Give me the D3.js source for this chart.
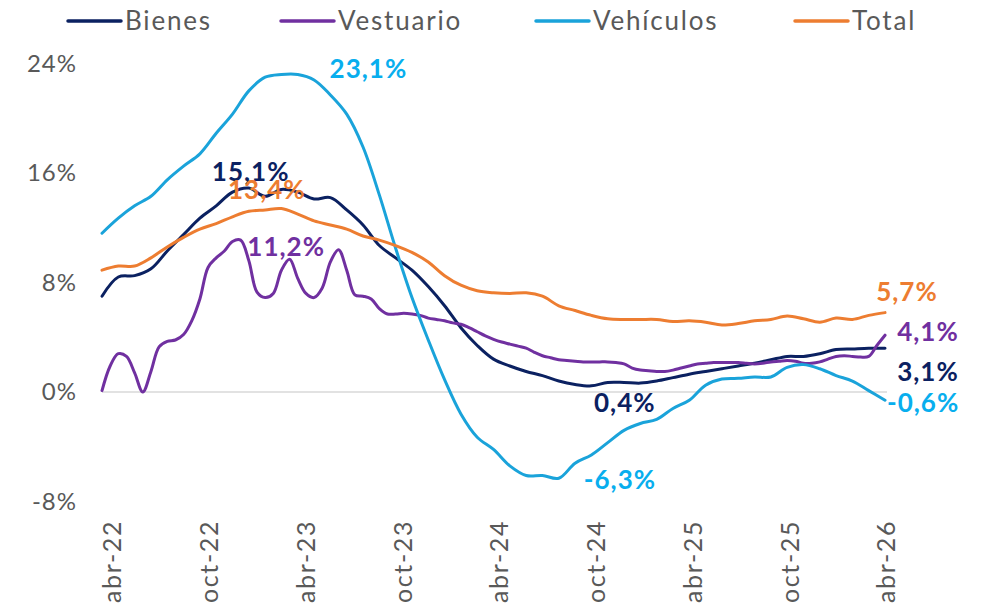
<!DOCTYPE html>
<html><head><meta charset="utf-8">
<script src="https://cdn.jsdelivr.net/npm/d3@7"></script>
<style>
body{margin:0;background:#fff;}
svg{display:block;}
text{font-family:"Lato","Open Sans",sans-serif;}
</style></head>
<body><svg id="c" width="992" height="608"></svg>
<script>
// ---- data ----
const seriesNames = ["Bienes","Vestuario","Vehículos","Total"];
const seriesColors = ["#0B2161","#7030A0","#1AA3DA","#ED7D31"];
const labelColors = ["#0B2161","#7030A0","#08AEEE","#ED7D31"];
// monthly (approx. mid-March 2022 .. end of March 2026)
const bienes = [7.0,8.4,8.5,9.0,10.3,11.5,12.7,13.6,14.6,14.9,14.3,14.8,14.6,14.1,14.2,13.3,12.2,10.7,9.8,8.9,7.7,6.3,4.7,3.4,2.4,1.9,1.5,1.2,0.8,0.55,0.45,0.7,0.7,0.65,0.8,1.05,1.3,1.5,1.7,1.9,2.1,2.35,2.6,2.6,2.8,3.1,3.15,3.2,3.2];
// half-monthly
const vestuario = [0.1,1.9,2.8,2.6,1.4,0.0,1.5,3.3,3.7,3.8,4.2,5.2,6.8,9.1,9.8,10.3,11.0,11.1,9.6,7.3,6.9,7.2,8.9,9.7,8.3,7.2,6.9,7.6,9.5,10.4,8.9,7.1,7.0,6.8,6.1,5.7,5.7,5.75,5.7,5.6,5.4,5.3,5.2,5.05,4.95,4.7,4.4,4.1,3.85,3.65,3.5,3.35,3.2,2.9,2.65,2.5,2.35,2.3,2.25,2.2,2.2,2.2,2.2,2.15,2.05,1.75,1.6,1.55,1.5,1.5,1.6,1.75,1.9,2.05,2.1,2.15,2.15,2.15,2.15,2.1,2.05,2.1,2.2,2.25,2.3,2.25,2.1,2.1,2.2,2.4,2.6,2.65,2.6,2.55,2.6,3.4,4.15];
const vehiculos = [11.6,12.7,13.6,14.3,15.5,16.5,17.4,18.9,20.3,22.0,23.0,23.2,23.2,22.8,21.7,20.3,17.9,14.4,10.5,6.9,3.8,0.9,-1.6,-3.3,-4.2,-5.4,-6.1,-6.1,-6.3,-5.2,-4.6,-3.7,-2.8,-2.3,-2.0,-1.2,-0.6,0.5,0.95,1.0,1.1,1.1,1.8,2.0,1.7,1.2,0.8,0.1,-0.6];
const total = [8.9,9.2,9.2,9.8,10.6,11.3,11.9,12.3,12.8,13.2,13.3,13.4,13.0,12.5,12.2,11.9,11.4,11.1,10.7,10.2,9.5,8.5,7.8,7.4,7.25,7.2,7.25,7.0,6.3,5.95,5.6,5.35,5.3,5.3,5.3,5.15,5.2,5.1,4.9,5.0,5.2,5.3,5.55,5.35,5.1,5.4,5.3,5.6,5.8];
const seriesValues = [bienes, vestuario, vehiculos, total];
// months relative to abr-22 covered by the data
const dataStartMonth = -0.62, dataEndMonth = 47.94;

const tickMonths = [0,6,12,18,24,30,36,42,48];
const tickLabels = ["abr-22","oct-22","abr-23","oct-23","abr-24","oct-24","abr-25","oct-25","abr-26"];
const yTicks = [-8,0,8,16,24];

// data labels: series index, month position, value, text
const dataLabels = [
  {s:2, m:15.9, v:23.6, t:"23,1%"},
  {s:0, m:8.6, v:16.1, t:"15,1%"},
  {s:3, m:9.6, v:14.8, t:"13,4%"},
  {s:1, m:10.8, v:10.6, t:"11,2%"},
  {s:0, m:31.8, v:-0.8, t:"0,4%"},
  {s:2, m:31.5, v:-6.4, t:"-6,3%"},
  {s:3, m:49.3, v:7.3, t:"5,7%"},
  {s:1, m:50.6, v:4.4, t:"4,1%"},
  {s:0, m:50.6, v:1.5, t:"3,1%"},
  {s:2, m:50.3, v:-0.8, t:"-0,6%"}
];

// ---- scales ----
const svg = d3.select("#c");
const x = d3.scaleLinear().domain([0,48]).range([112,886]);
const y = d3.scaleLinear().domain([-8,24]).range([501.5,63.5]);

// zero line
svg.append("line")
  .attr("x1", x(dataStartMonth)).attr("x2", x(dataEndMonth)+2)
  .attr("y1", y(0)).attr("y2", y(0))
  .attr("stroke","#D9D9D9").attr("stroke-width",1.5);

// y axis
const ya = svg.append("g").attr("transform","translate(80,0)")
  .call(d3.axisLeft(y).tickValues(yTicks).tickFormat(d=>d+"%").tickSize(0).tickPadding(3));
ya.select(".domain").remove();
ya.selectAll("text").attr("fill","#595959").style("font-size","24px")
  .style("font-family","Lato").style("letter-spacing","1px");

// x axis
const xa = svg.append("g").attr("transform","translate(0,520)")
  .call(d3.axisBottom(x).tickValues(tickMonths).tickFormat((d,i)=>tickLabels[i]).tickSize(0));
xa.select(".domain").remove();
xa.selectAll("text")
  .attr("fill","#595959").style("font-size","25px").style("font-family","Lato")
  .style("letter-spacing","1.6px")
  .attr("x",0).attr("y",0).attr("dy","0.35em")
  .attr("transform","rotate(-90)").attr("text-anchor","end");

// lines
const line = d3.line().curve(d3.curveCatmullRom.alpha(0.5));
seriesValues.forEach((vals,si)=>{
  const n = vals.length;
  const pts = vals.map((v,i)=>[x(dataStartMonth + i*(dataEndMonth-dataStartMonth)/(n-1)), y(v)]);
  svg.append("path").attr("d", line(pts))
    .attr("fill","none").attr("stroke",seriesColors[si])
    .attr("stroke-width",3).attr("stroke-linejoin","round").attr("stroke-linecap","round");
});

// data labels
svg.selectAll(".dl").data(dataLabels).enter().append("text")
  .attr("x",d=>x(d.m)).attr("y",d=>y(d.v)).attr("dy","0.35em")
  .attr("text-anchor","middle").attr("fill",d=>labelColors[d.s])
  .style("font-size","26px").style("font-weight","bold").style("letter-spacing","1px")
  .text(d=>d.t);

// legend
const legendX = [68,281,536,795];
const lg = svg.selectAll(".lg").data(seriesNames).enter().append("g")
  .attr("transform",(d,i)=>`translate(${legendX[i]},21)`);
lg.append("line").attr("x1",0).attr("x2",53).attr("y1",0).attr("y2",0)
  .attr("stroke",(d,i)=>seriesColors[i]).attr("stroke-width",3.5).attr("stroke-linecap","round");
lg.append("text").attr("x",57).attr("y",0).attr("dy","0.35em")
  .attr("fill","#595959").style("font-size","26px").style("letter-spacing","1.8px").text(d=>d);
</script></body></html>
